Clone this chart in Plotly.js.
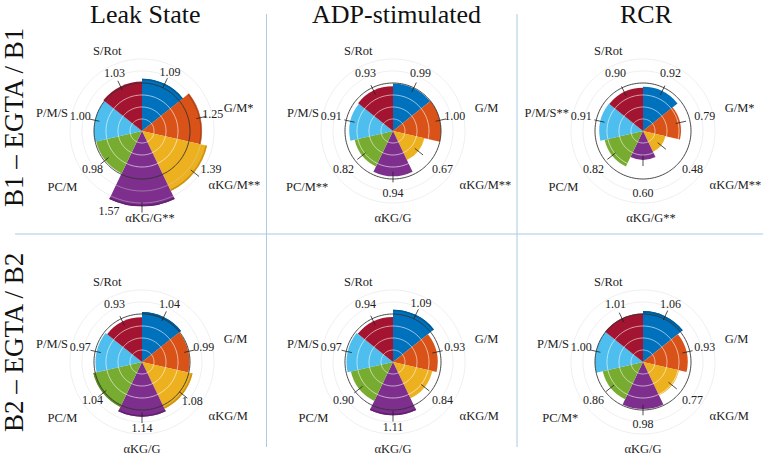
<!DOCTYPE html>
<html>
<head>
<meta charset="utf-8">
<script src="https://cdn.plot.ly/plotly-3.0.1.min.js"></script>
<style>html,body{margin:0;padding:0;background:#fff;}#chart{width:763px;height:455px;}</style>
</head>
<body>
<div id="chart"></div>
<script>
// ---------- data ----------
const categories = ['P/M', 'G/M', 'αKG/M', 'αKG/G', 'PC/M', 'P/M/S', 'S/Rot'];
const colTitles = ['Leak State', 'ADP-stimulated', 'RCR'];
const rowTitles = ['B1 – EGTA / B1', 'B2 – EGTA / B2'];

const leakB1 = [1.09, 1.25, 1.39, 1.57, 0.98, 1.00, 1.03];
const adpB1  = [0.99, 1.00, 0.67, 0.94, 0.82, 0.91, 0.93];
const rcrB1  = [0.92, 0.79, 0.48, 0.60, 0.82, 0.91, 0.90];
const leakB2 = [1.04, 0.99, 1.08, 1.14, 1.04, 0.97, 0.93];
const adpB2  = [1.09, 0.93, 0.84, 1.11, 0.90, 0.97, 0.94];
const rcrB2  = [1.06, 0.93, 0.77, 0.98, 0.86, 1.00, 1.01];

const leakB1Sig = ['', '*', '**', '**', '', '', ''];
const adpB1Sig  = ['', '', '**', '', '**', '', ''];
const rcrB1Sig  = ['*', '*', '**', '**', '', '**', ''];
const leakB2Sig = ['', '', '', '', '', '', ''];
const adpB2Sig  = ['', '', '', '', '', '', ''];
const rcrB2Sig  = ['', '', '', '', '*', '', ''];

// ---------- style ----------
const colors = ['#0072BD', '#D95319', '#EDB120', '#7E2F8E', '#77AC30', '#4DBEEE', '#A2142F'];
const darkColors = ['#005b98', '#b24212', '#cc9412', '#62226f', '#5d8b22', '#2aa0d4', '#7f0e24'];
const SERIF = '"Liberation Serif", "DejaVu Serif", "Times New Roman", Times, serif';
const W = 763, H = 455;
const PX_PER_UNIT = 48;
const RMAX = 1.9;
const RPX = RMAX * PX_PER_UNIT;
const colCx = [142, 393, 643];
const rowCy = [131, 362];
const catR    = [1.97, 1.76, 1.80, 1.83, 1.80, 1.58, 1.80];
const catDTh  = [2, -2, 1, 0, -3, 0, 2];
const catPos  = ['middle center', 'middle right', 'middle right', 'middle center', 'middle left', 'middle left', 'middle center'];
const STAR_SHIFT_PX = 4;   // centred labels drift right by this much per star

const panels = [
  [leakB1, leakB1Sig], [adpB1, adpB1Sig], [rcrB1, rcrB1Sig],
  [leakB2, leakB2Sig], [adpB2, adpB2Sig], [rcrB2, rcrB2Sig]
];

const N = categories.length;
const SW = 360 / N;
const thetas = categories.map((_, i) => i * SW + SW / 2);
const circleTheta = [];
for (let a = 0; a <= 360; a += 2) circleTheta.push(a);

const traces = [];
const layout = {
  width: W, height: H,
  margin: {l: 0, r: 0, t: 0, b: 0},
  paper_bgcolor: '#fff',
  showlegend: false,
  font: {family: SERIF},
  annotations: [],
  shapes: []
};

panels.forEach((p, k) => {
  const vals = p[0], sig = p[1];
  const row = Math.floor(k / 3), col = k % 3;
  const name = k === 0 ? 'polar' : 'polar' + (k + 1);
  const cx = colCx[col], cy = rowCy[row];
  layout[name] = {
    domain: {
      x: [(cx - RPX) / W, (cx + RPX) / W],
      y: [1 - (cy + RPX) / H, 1 - (cy - RPX) / H]
    },
    bgcolor: 'rgba(0,0,0,0)',
    radialaxis: {visible: false, range: [0, RMAX]},
    angularaxis: {visible: false, type: 'linear', direction: 'clockwise', rotation: 90, thetaunit: 'degrees'}
  };
  // bars
  traces.push({
    type: 'barpolar', subplot: name, r: vals, theta: thetas, width: SW,
    marker: {color: colors, line: {width: 0}}, hoverinfo: 'skip'
  });
  // darker tip band for bars above the reference
  const bi = vals.map((v, i) => i).filter(i => vals[i] > 1.03);
  if (bi.length) {
    traces.push({
      type: 'barpolar', subplot: name,
      r: bi.map(() => 0.035), base: bi.map(i => vals[i] - 0.035),
      theta: bi.map(i => thetas[i]), width: SW,
      marker: {color: bi.map(i => darkColors[i]), line: {width: 0}}, hoverinfo: 'skip'
    });
  }
  // grid circles drawn above bars
  [[0.25, 'rgba(255,255,255,0.75)'], [0.5, 'rgba(255,255,255,0.75)'], [0.75, 'rgba(255,255,255,0.75)'],
   [1.25, 'rgba(215,215,215,0.5)'], [1.5, 'rgba(215,215,215,0.5)'], [1.0, '#333']].forEach(c => {
    traces.push({
      type: 'scatterpolar', subplot: name, mode: 'lines',
      r: circleTheta.map(() => c[0]), theta: circleTheta,
      line: {color: c[1], width: c[0] === 1.0 ? 0.9 : 0.8}, hoverinfo: 'skip'
    });
  });
  // leader lines
  const lr = [], lt = [];
  vals.forEach((v, i) => { lr.push(v - 0.09, v + 0.13, null); lt.push(thetas[i], thetas[i], null); });
  traces.push({
    type: 'scatterpolar', subplot: name, mode: 'lines', r: lr, theta: lt,
    line: {color: '#222', width: 0.8}, hoverinfo: 'skip', connectgaps: false
  });
  // value labels (pushed sideways when they would meet the category label)
  const labR = vals.map(v => Math.max(1.32, v + 0.26));
  const labDTh = labR.map(r => r > 1.78 ? 22 : (r > 1.6 ? -9 : 0));
  traces.push({
    type: 'scatterpolar', subplot: name, mode: 'text', cliponaxis: false,
    r: labR, theta: thetas.map((t, i) => t + labDTh[i]),
    text: vals.map(v => v.toFixed(2)), textposition: 'middle center',
    textfont: {family: SERIF, size: 12, color: '#222'}, hoverinfo: 'skip'
  });
  // category labels
  const catTh = thetas.map((t, i) => {
    let th = t + catDTh[i];
    if (catPos[i] === 'middle center' && sig[i]) {
      const dx = STAR_SHIFT_PX * sig[i].length;
      const rad = th * Math.PI / 180;
      th += (dx / (catR[i] * PX_PER_UNIT * Math.cos(rad))) * 180 / Math.PI;
    }
    return th;
  });
  traces.push({
    type: 'scatterpolar', subplot: name, mode: 'text', cliponaxis: false,
    r: catR, theta: catTh,
    text: categories.map((c, i) => c + sig[i]), textposition: catPos,
    textfont: {family: SERIF, size: 12.5, color: '#222'}, hoverinfo: 'skip'
  });
});

// column titles
colTitles.forEach((t, i) => {
  layout.annotations.push({
    text: t, xref: 'paper', yref: 'paper', x: colCx[i] / W + 0.004, y: 1 - 14 / H,
    xanchor: 'center', yanchor: 'middle', showarrow: false,
    font: {family: SERIF, size: 26, color: '#111'}
  });
});
// row titles
rowTitles.forEach((t, i) => {
  layout.annotations.push({
    text: t, xref: 'paper', yref: 'paper', x: 14 / W, y: 1 - [118, 343][i] / H,
    xanchor: 'center', yanchor: 'middle', showarrow: false, textangle: -90,
    font: {family: SERIF, size: 27, color: '#111'}
  });
});
// separators
const sepColor = '#a9cbe4';
[266.5, 517].forEach(x => {
  layout.shapes.push({type: 'line', xref: 'paper', yref: 'paper',
    x0: x / W, x1: x / W, y0: 1 - 14 / H, y1: 1 - 447 / H, line: {color: sepColor, width: 1}});
});
layout.shapes.push({type: 'line', xref: 'paper', yref: 'paper',
  x0: 15 / W, x1: 1, y0: 1 - 234 / H, y1: 1 - 234 / H, line: {color: sepColor, width: 1}});

Plotly.newPlot('chart', traces, layout, {displayModeBar: false, staticPlot: true});
</script>
</body>
</html>
